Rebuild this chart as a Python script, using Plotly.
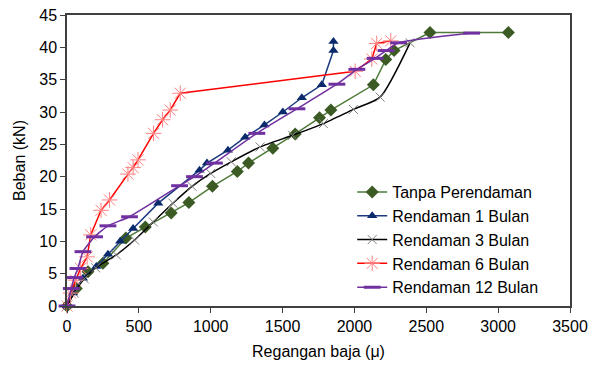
import plotly.graph_objects as go

# Tanpa Perendaman
x_tanpa = [0, 65, 146, 250, 410, 545, 725, 848, 1012, 1185, 1263, 1432, 1588, 1757, 1836, 2132, 2218, 2276, 2526, 3071]
y_tanpa = [0, 2.7, 5.3, 6.6, 10.5, 12.2, 14.4, 16.0, 18.5, 20.8, 22.1, 24.4, 26.6, 29.1, 30.3, 34.2, 38.1, 39.5, 42.3, 42.3]

# Rendaman 1 Bulan
x_r1 = [0, 42, 111, 204, 285, 370, 460, 635, 922, 974, 1120, 1240, 1374, 1502, 1634, 1773, 1854, 1854]
y_r1 = [0, 2.0, 4.3, 6.1, 8.0, 10.0, 12.0, 15.9, 21.0, 22.1, 24.1, 26.1, 28.0, 30.0, 32.2, 34.2, 39.5, 40.9]

# Rendaman 3 Bulan
x_r3 = [0, 50, 120, 200, 343, 470, 600, 737, 870, 1000, 1143, 1344, 1570, 1784, 1993, 2179, 2387]
y_r3 = [0, 2.0, 4.2, 5.9, 7.9, 10.2, 13.0, 15.9, 18.5, 20.5, 22.3, 24.6, 26.4, 28.2, 30.4, 32.3, 40.7]

# Rendaman 6 Bulan
x_r6 = [0, 25, 60, 95, 140, 165, 237, 296, 424, 460, 494, 602, 665, 718, 788, 2005, 2121, 2155, 2253]
y_r6 = [0, 2.0, 4.0, 5.8, 7.6, 11.0, 14.8, 16.4, 20.4, 21.4, 22.6, 26.7, 28.8, 30.3, 32.9, 36.3, 38.2, 40.6, 41.0]

# Rendaman 12 Bulan
x_r12 = [0, 30, 50, 76, 111, 192, 285, 435, 783, 887, 1026, 1321, 1600, 1878, 2017, 2144, 2220, 2307, 2816]
y_r12 = [0, 2.7, 4.4, 5.8, 8.4, 10.7, 12.4, 13.8, 18.6, 20.0, 22.1, 26.7, 30.5, 34.3, 36.6, 38.3, 39.5, 40.7, 42.2]

x_ticks = [0, 500, 1000, 1500, 2000, 2500, 3000, 3500]
y_ticks = [0, 5, 10, 15, 20, 25, 30, 35, 40, 45]

series = [
    ("Tanpa Perendaman", x_tanpa, y_tanpa, dict(color="#4E7A3A", width=1.5, shape="linear"),
     dict(symbol="diamond", size=10, color="#3B5A24")),
    ("Rendaman 1 Bulan", x_r1, y_r1, dict(color="#1A3A7E", width=1.5, shape="linear"),
     dict(symbol="triangle-up", size=9, color="#0B2A6B")),
    ("Rendaman 3 Bulan", x_r3, y_r3, dict(color="#000000", width=1.5, shape="spline", smoothing=0.6),
     dict(symbol="x-thin-open", size=9, color="#808080", line=dict(width=1, color="#808080"))),
    ("Rendaman 6 Bulan", x_r6, y_r6, dict(color="#FF0000", width=1.5, shape="linear"),
     dict(symbol="asterisk-open", size=13, color="#FF8080", line=dict(width=1, color="#FF8080"))),
    ("Rendaman 12 Bulan", x_r12, y_r12, dict(color="#7030A0", width=1.5, shape="spline", smoothing=0.5),
     dict(symbol="line-ew-open", size=12, color="#7030A0", line=dict(width=3, color="#7030A0"))),
]

fig = go.Figure()
for name, xs, ys, ln, mk in series:
    fig.add_trace(go.Scatter(x=xs, y=ys, name=name, mode="lines+markers",
                             line=ln, marker=mk, cliponaxis=False))

font_family = "Liberation Sans, Arial, sans-serif"
fig.update_layout(
    width=593, height=365,
    margin=dict(l=67, r=23, t=15, b=59),
    paper_bgcolor="white", plot_bgcolor="white",
    font=dict(family=font_family, size=16, color="#000000"),
    showlegend=True,
    legend=dict(x=0.567, y=0.45, xanchor="left", yanchor="top",
                bgcolor="rgba(0,0,0,0)", font=dict(size=16),
                itemwidth=30),
    xaxis=dict(range=[0, 3500], tickvals=x_ticks, showgrid=False, zeroline=False,
               showline=True, linecolor="#404040", linewidth=1.5, mirror=True,
               ticks="outside", ticklen=5, tickcolor="#404040",
               tickfont=dict(size=16), automargin=False,
               title=dict(text="Regangan baja (μ)", standoff=12, font=dict(size=16))),
    yaxis=dict(range=[0, 45], tickvals=y_ticks, showgrid=False, zeroline=False,
               showline=True, linecolor="#404040", linewidth=1.5, mirror=True,
               ticks="outside", ticklen=5, tickcolor="#404040",
               tickfont=dict(size=16), automargin=False,
               title=dict(text="Beban (kN)", standoff=10, font=dict(size=16))),
)

fig.write_html("out.html")
